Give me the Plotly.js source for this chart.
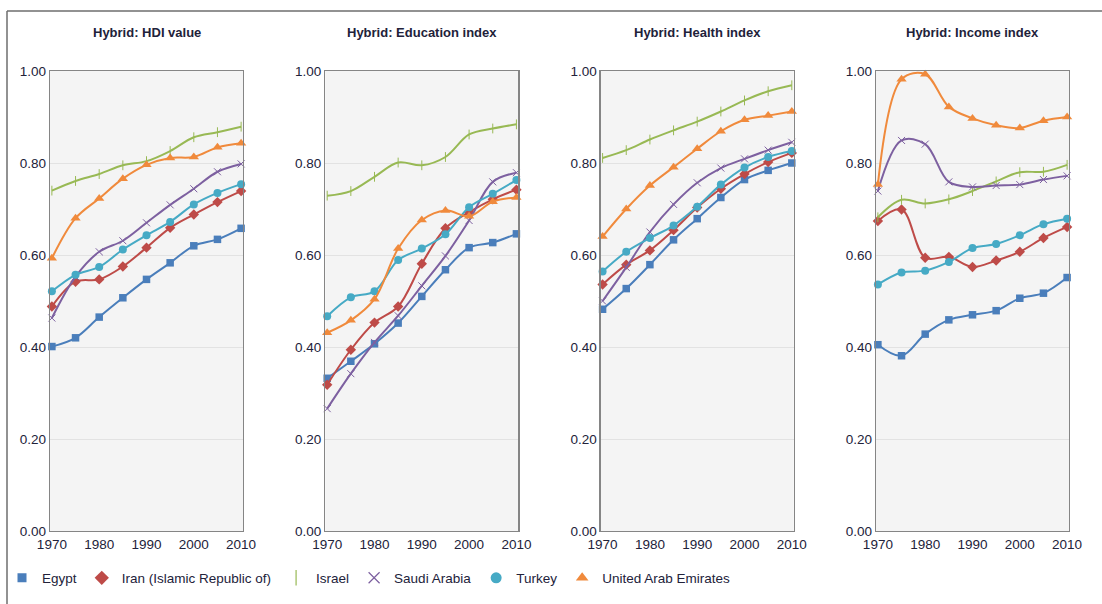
<!DOCTYPE html>
<html>
<head>
<meta charset="utf-8">
<script src="https://cdn.plot.ly/plotly-3.0.1.min.js"></script>
<style>html,body{margin:0;padding:0;background:#fff;}#chart{width:1102px;height:604px;}</style>
</head>
<body>
<div id="chart"></div>
<script>
const years = [1970, 1975, 1980, 1985, 1990, 1995, 2000, 2005, 2010];
const countries = ["Egypt", "Iran (Islamic Republic of)", "Israel", "Saudi Arabia", "Turkey", "United Arab Emirates"];
const panelTitles = ["Hybrid: HDI value", "Hybrid: Education index", "Hybrid: Health index", "Hybrid: Income index"];
const xTickVals = [1970, 1980, 1990, 2000, 2010];
const yTickVals = [0, 0.2, 0.4, 0.6, 0.8, 1.0];
const yTickText = ["0.00", "0.20", "0.40", "0.60", "0.80", "1.00"];

// HDI value
const hdiEgypt  = [0.401, 0.420, 0.465, 0.507, 0.547, 0.583, 0.620, 0.634, 0.658];
const hdiIran   = [0.488, 0.542, 0.547, 0.575, 0.616, 0.659, 0.688, 0.715, 0.739];
const hdiIsrael = [0.740, 0.761, 0.776, 0.795, 0.804, 0.826, 0.856, 0.867, 0.879];
const hdiSaudi  = [0.463, 0.553, 0.607, 0.631, 0.670, 0.709, 0.744, 0.781, 0.798];
const hdiTurkey = [0.521, 0.557, 0.574, 0.612, 0.643, 0.672, 0.710, 0.735, 0.754];
const hdiUAE    = [0.593, 0.680, 0.723, 0.766, 0.796, 0.811, 0.813, 0.834, 0.843];

// Education index
const eduEgypt  = [0.332, 0.369, 0.407, 0.452, 0.510, 0.568, 0.616, 0.627, 0.646];
const eduIran   = [0.318, 0.394, 0.453, 0.488, 0.581, 0.658, 0.693, 0.721, 0.742];
const eduIsrael = [0.729, 0.739, 0.770, 0.801, 0.795, 0.813, 0.862, 0.875, 0.884];
const eduSaudi  = [0.266, 0.342, 0.410, 0.468, 0.533, 0.598, 0.675, 0.759, 0.779];
const eduTurkey = [0.467, 0.508, 0.521, 0.589, 0.614, 0.645, 0.704, 0.733, 0.763];
const eduUAE    = [0.431, 0.458, 0.504, 0.614, 0.676, 0.697, 0.684, 0.716, 0.725];

// Health index
const hltEgypt  = [0.482, 0.527, 0.579, 0.633, 0.679, 0.725, 0.764, 0.784, 0.800];
const hltIran   = [0.536, 0.579, 0.610, 0.654, 0.703, 0.744, 0.776, 0.802, 0.822];
const hltIsrael = [0.811, 0.828, 0.851, 0.871, 0.890, 0.912, 0.936, 0.956, 0.969];
const hltSaudi  = [0.500, 0.573, 0.650, 0.710, 0.757, 0.789, 0.809, 0.828, 0.845];
const hltTurkey = [0.564, 0.607, 0.637, 0.664, 0.705, 0.753, 0.790, 0.813, 0.826];
const hltUAE    = [0.640, 0.700, 0.751, 0.791, 0.831, 0.869, 0.894, 0.903, 0.912];

// Income index
const incEgypt  = [0.405, 0.381, 0.428, 0.459, 0.470, 0.479, 0.506, 0.517, 0.551];
const incIran   = [0.674, 0.699, 0.594, 0.596, 0.574, 0.588, 0.607, 0.637, 0.661];
const incIsrael = [0.682, 0.720, 0.712, 0.721, 0.739, 0.760, 0.780, 0.781, 0.796];
const incSaudi  = [0.739, 0.849, 0.841, 0.759, 0.748, 0.751, 0.753, 0.764, 0.772];
const incTurkey = [0.536, 0.562, 0.566, 0.585, 0.615, 0.624, 0.643, 0.667, 0.679];
const incUAE    = [0.753, 0.982, 0.993, 0.922, 0.897, 0.882, 0.876, 0.892, 0.900];

const panels = [
  [hdiEgypt, hdiIran, hdiIsrael, hdiSaudi, hdiTurkey, hdiUAE],
  [eduEgypt, eduIran, eduIsrael, eduSaudi, eduTurkey, eduUAE],
  [hltEgypt, hltIran, hltIsrael, hltSaudi, hltTurkey, hltUAE],
  [incEgypt, incIran, incIsrael, incSaudi, incTurkey, incUAE]
];

const colors = ["#4a7ebb", "#be4b48", "#98b954", "#7d60a0", "#46aac5", "#f08a3c"];
const symbols = ["square", "diamond", "line-ns", "x-thin", "circle", "triangle-up"];
const msize = [7.5, 8, 7, 7, 8, 9];
const legSize = [9, 11, 11, 11, 11, 11];

const W = 1102, H = 604;
const panelLeft = [50, 325.3, 600.7, 876];
const panelWidth = 193;
const plotTop = 71, plotBottom = 531;

const textColor = "#22223a";
const font = "Liberation Sans, Arial, sans-serif";

const traces = [];
const layout = {
  width: W, height: H,
  margin: {l: 0, r: 0, t: 0, b: 0},
  paper_bgcolor: "#ffffff",
  plot_bgcolor: "#f4f4f4",
  font: {family: font, color: textColor, size: 13},
  showlegend: true,
  legend: {
    orientation: "h",
    x: 2 / W, xanchor: "left",
    y: 1 - 578 / H, yanchor: "middle",
    font: {family: font, size: 13.5, color: textColor},
    itemwidth: 30,
    bgcolor: "rgba(0,0,0,0)"
  },
  annotations: [],
  shapes: [
    {type: "line", xref: "paper", yref: "paper", x0: 7 / W, x1: 7 / W, y0: 0, y1: 1 - 11 / H,
     line: {color: "#6e6e6e", width: 1.5}},
    {type: "line", xref: "paper", yref: "paper", x0: 7 / W, x1: 1, y0: 1 - 11 / H, y1: 1 - 11 / H,
     line: {color: "#6e6e6e", width: 1.5}}
  ]
};

panels.forEach((series, p) => {
  const xa = p === 0 ? "x" : "x" + (p + 1);
  const ya = p === 0 ? "y" : "y" + (p + 1);
  const xKey = p === 0 ? "xaxis" : "xaxis" + (p + 1);
  const yKey = p === 0 ? "yaxis" : "yaxis" + (p + 1);
  layout[xKey] = {
    domain: [panelLeft[p] / W, (panelLeft[p] + panelWidth) / W],
    anchor: ya,
    range: [1969.6, 2010.4],
    tickvals: xTickVals,
    ticktext: xTickVals.map(String),
    showgrid: false, zeroline: false,
    showline: true, mirror: true, linecolor: "#858585", linewidth: 1.3,
    ticks: "", tickfont: {size: 13.5, color: textColor}, fixedrange: true
  };
  layout[yKey] = {
    domain: [1 - plotBottom / H, 1 - plotTop / H],
    anchor: xa,
    range: [0, 1],
    tickvals: yTickVals, ticktext: yTickText,
    showgrid: true, gridcolor: "#e2e2e2", gridwidth: 1,
    zeroline: false,
    showline: true, mirror: true, linecolor: "#858585", linewidth: 1.3,
    ticks: "", tickfont: {size: 13.5, color: textColor}, fixedrange: true
  };
  layout.annotations.push({
    xref: "paper", yref: "paper",
    x: (panelLeft[p] + panelWidth / 2) / W, y: 1 - 32 / H,
    xanchor: "center", yanchor: "middle",
    text: "<b>" + panelTitles[p] + "</b>", showarrow: false,
    font: {family: font, size: 13, color: textColor}
  });
  series.forEach((vals, i) => {
    traces.push({
      type: "scatter", mode: "lines+markers",
      x: years, y: vals, xaxis: xa, yaxis: ya,
      name: countries[i], showlegend: false, legendgroup: countries[i],
      line: {color: colors[i], width: 2, shape: "spline", smoothing: 1},
      marker: {symbol: symbols[i], size: msize[i], color: colors[i],
               line: {color: colors[i], width: (symbols[i] === "line-ns" || symbols[i] === "x-thin") ? 1 : 0}},
      cliponaxis: false,
      hoverinfo: "x+y+name"
    });
  });
});

// legend entries (marker only, as in the original legend)
countries.forEach((c, i) => {
  traces.push({
    type: "scatter", mode: "markers", x: [null], y: [null],
    name: c, legendgroup: c, showlegend: true,
    marker: {symbol: symbols[i], size: legSize[i], color: colors[i],
             line: {color: colors[i], width: (symbols[i] === "line-ns" || symbols[i] === "x-thin") ? 1.2 : 0}}
  });
});

Plotly.newPlot("chart", traces, layout, {displayModeBar: false, staticPlot: true});
</script>
</body>
</html>
